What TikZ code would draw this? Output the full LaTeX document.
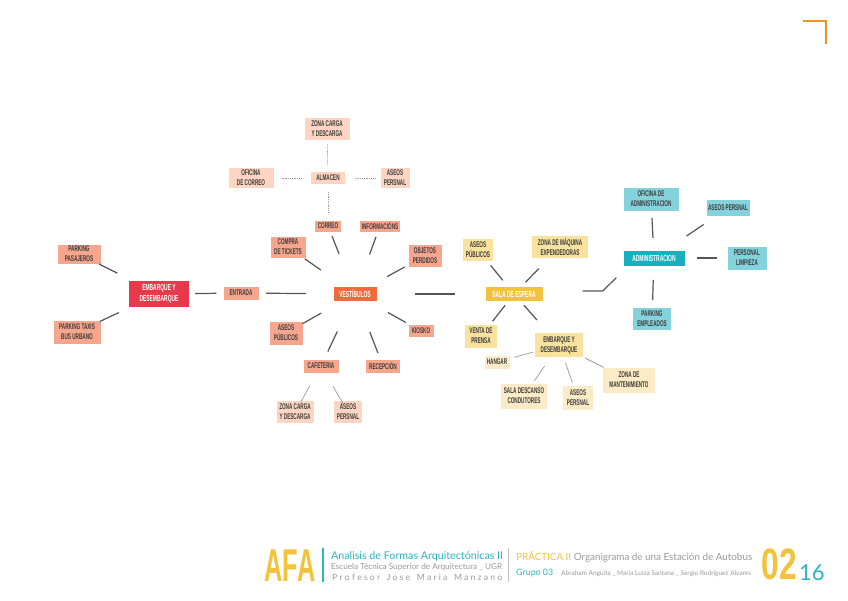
\documentclass[tikz,border=0pt]{standalone}
\usepackage{fontspec}
\setmainfont{Lato}
\newfontfamily\cnd[FakeStretch=0.56]{Liberation Sans}
\newfontfamily\lsb{Liberation Sans}
\usetikzlibrary{calc}
\definecolor{txt}{HTML}{3A3A3A}
\definecolor{cred}{HTML}{E8394A}
\definecolor{csal}{HTML}{F7A68E}
\definecolor{cpea}{HTML}{FDD5C2}
\definecolor{cora}{HTML}{F26A3B}
\definecolor{cyel}{HTML}{F2C23A}
\definecolor{cyl}{HTML}{F8E29E}
\definecolor{ccr}{HTML}{FCEBC6}
\definecolor{ctea}{HTML}{1AAFBF}
\definecolor{clt}{HTML}{84D3DC}
\definecolor{cline}{HTML}{555555}
\definecolor{cgr}{HTML}{9A9A9A}
\definecolor{ccorner}{HTML}{E8952A}
\definecolor{fteal}{HTML}{2BB5C5}
\definecolor{fgray}{HTML}{9A9A9A}
\tikzset{
  bx/.style={rectangle, align=center, inner sep=1pt, text=txt,
    font={\cnd\bfseries\fontsize{8.3}{10}\selectfont}},
  sz/.style 2 args={minimum width=#1pt, minimum height=#2pt},
  wt/.style={text=white, font={\cnd\bfseries\fontsize{8.8}{11}\selectfont}},
  ln/.style={draw=cline, line width=1.2pt},
  thn/.style={draw=cgr, line width=0.7pt},
  dsh/.style={draw=cgr, line width=0.6pt, dash pattern=on 1pt off 0.8pt},
}
\newcommand\seg[5][ln]{\draw[#1] ($(#2)!#4!(#3)$) -- ($(#2)!#5!(#3)$);}
\begin{document}
\begin{tikzpicture}[x=1pt,y=-1pt]
\useasboundingbox[fill=white] (0,0) rectangle (848,600);
% corner
\draw[ccorner, line width=1.6pt] (803,21) -- (826,21) -- (826,44);
% left group
\node[bx,wt,fill=cred,sz={60}{26}] (emb) at (159,294) {EMBARQUE Y\\DESEMBARQUE};
\node[bx,fill=csal,sz={43}{19}] (ppas) at (79,254) {PARKING\\PASAJEROS};
\node[bx,fill=csal,sz={47}{23}] (ptax) at (77,332) {PARKING TAXIS\\BUS URBANO};
\node[bx,fill=csal,sz={35}{13}] (entr) at (241,293) {ENTRADA};
% vestibulos
\node[bx,wt,fill=cora,sz={43}{14}] (vest) at (355,294) {VESTÍBULOS};
\node[bx,fill=csal,sz={35}{21}] (comp) at (288,247) {COMPRA\\DE TICKETS};
\node[bx,fill=csal,sz={26}{11}] (corr) at (328,226) {CORREO};
\node[bx,fill=csal,sz={40}{11}] (info) at (380,226) {INFORMACIÓNS};
\node[bx,fill=csal,sz={33}{22}] (obj) at (425,256) {OBJETOS\\PERDIDOS};
\node[bx,fill=csal,sz={25}{12}] (kio) at (421,331) {KIOSKO};
\node[bx,fill=csal,sz={34}{13}] (rec) at (383,366) {RECEPCIÓN};
\node[bx,fill=csal,sz={35}{13}] (caf) at (321,366) {CAFETERIA};
\node[bx,fill=csal,sz={33}{23}] (asp) at (286,333) {ASEOS\\PÚBLICOS};
\node[bx,fill=cpea,sz={37}{22}] (zc2) at (295,412) {ZONA CARGA\\Y DESCARGA};
\node[bx,fill=cpea,sz={28}{22}] (ap2) at (348,412) {ASEOS\\PERSNAL};
\node[bx,fill=cpea,sz={34}{12}] (alm) at (328,178) {ALMACEN};
\node[bx,fill=cpea,sz={45}{20}] (ofc) at (251,178) {OFICINA\\DE CORREO};
\node[bx,fill=cpea,sz={29}{20}] (ap1) at (395,178) {ASEOS\\PERSNAL};
\node[bx,fill=cpea,sz={45}{22}] (zc1) at (327,129) {ZONA CARGA\\Y DESCARGA};
% sala de espera
\node[bx,wt,fill=cyel,sz={57}{14}] (sala) at (514,294) {SALA DE ESPERA};
\node[bx,fill=cyl,sz={30}{22}] (asp3) at (478,250) {ASEOS\\PÚBLICOS};
\node[bx,fill=cyl,sz={56}{22}] (maq) at (560,247) {ZONA DE MÁQUINA\\EXPENDEDORAS};
\node[bx,fill=cyl,sz={32}{23}] (vent) at (481,336) {VENTA DE\\PRENSA};
\node[bx,fill=cyl,sz={48}{24}] (emb2) at (559,345) {EMBARQUE Y\\DESEMBARQUE};
\node[bx,fill=ccr,sz={25}{13}] (hang) at (497,362) {HANGAR};
\node[bx,fill=ccr,sz={46}{25}] (desc) at (524,396) {SALA DESCANSO\\CONDUTORES};
\node[bx,fill=ccr,sz={30}{24}] (ap3) at (578,398) {ASEOS\\PERSNAL};
\node[bx,fill=ccr,sz={52}{25}] (mant) at (629,380) {ZONA DE\\MANTENIMIENTO};
% administracion
\node[bx,wt,fill=ctea,sz={61}{15}] (adm) at (654,258) {ADMINISTRACION};
\node[bx,fill=clt,sz={55}{23}] (ofa) at (651,199) {OFICINA DE\\ADMINISTRACION};
\node[bx,fill=clt,sz={43}{16}] (apa) at (728,208) {ASEOS PERSNAL};
\node[bx,fill=clt,sz={39}{23}] (limp) at (747,258) {PERSONAL\\LIMPIEZA};
\node[bx,fill=clt,sz={38}{22}] (park) at (652,319) {PARKING\\EMPLEADOS};
% connectors left
\seg{emb}{ppas}{0.52}{0.75}
\seg{emb}{ptax}{0.49}{0.72}
\seg{emb}{entr}{0.44}{0.70}
% vestibulos
\seg{vest}{entr}{0.43}{0.78}
\seg{vest}{sala}{0.377}{0.63}
\seg{vest}{comp}{0.51}{0.75}
\seg{vest}{corr}{0.59}{0.85}
\seg{vest}{info}{0.58}{0.84}
\seg{vest}{obj}{0.46}{0.71}
\seg{vest}{asp}{0.49}{0.76}
\seg{vest}{kio}{0.50}{0.77}
\seg{vest}{caf}{0.52}{0.80}
\seg{vest}{rec}{0.53}{0.82}
\seg[dsh]{alm}{ofc}{0.34}{0.60}
\seg[dsh]{alm}{ap1}{0.40}{0.70}
\seg[dsh]{alm}{zc1}{0.27}{0.71}
\seg[dsh]{alm}{corr}{0.29}{0.71}
\seg[thn]{caf}{zc2}{0.43}{0.78}
\seg[thn]{caf}{ap2}{0.44}{0.82}
% sala
\seg{sala}{asp3}{0.31}{0.65}
\seg{sala}{maq}{0.25}{0.54}
\seg{sala}{vent}{0.27}{0.65}
\seg{sala}{emb2}{0.22}{0.51}
\draw[ln] ($(sala.east)+(40,-3)$) -- ++(20,0) -- ($(adm.south west)+(-7,12)$);
\seg[thn]{emb2}{hang}{0.42}{0.72}
\seg[thn]{emb2}{desc}{0.41}{0.70}
\seg[thn]{emb2}{ap3}{0.34}{0.71}
\seg[thn]{emb2}{mant}{0.37}{0.64}
% admin
\seg{adm}{ofa}{0.34}{0.68}
\seg{adm}{apa}{0.44}{0.67}
\seg{adm}{limp}{0.46}{0.68}
\seg{adm}{park}{0.36}{0.69}
% footer
\node[anchor=center, inner sep=0, text=cyel] (afa) at (290,566)
  {\scalebox{0.55}[1]{\lsb\bfseries\fontsize{46}{46}\selectfont AFA}};
\draw[fteal, line width=1.2pt] (323,548) -- (323,582);
\node[anchor=base west, inner sep=0, text=fteal] (t1) at (331,559)
  {\resizebox{172pt}{!}{Analisis de Formas Arquitectónicas II}};
\node[anchor=base west, inner sep=0, text=fgray] (t2) at (331,569.5)
  {\resizebox{171pt}{!}{Escuela Técnica Superior de Arquitectura \_ UGR}};
\node[anchor=base west, inner sep=0, text=fgray] (t3) at (332,580)
  {\resizebox{170pt}{!}{P r o f e s o r \ \ J o s e \ \ M a r i a \ \ M a n z a n o}};
\draw[fgray!60, line width=0.8pt] (508,548) -- (508,582);
\node[anchor=base west, inner sep=0] (t4) at (516,560)
  {\resizebox{236pt}{!}{\textcolor{cyel}{PRÁCTICA II} \textcolor{fgray}{Organigrama de una Estación de Autobus}}};
\node[anchor=base west, inner sep=0, text=fteal] (t5) at (516,575)
  {\resizebox{37pt}{!}{Grupo 03}};
\node[anchor=base west, inner sep=0, text=fgray] (t6) at (561,575)
  {\resizebox{190pt}{!}{Abraham Anguita \_ Maria Luiza Santana \_ Sergio Rodriguez Alvares}};
\node[anchor=center, inner sep=0, text=cyel] (n02) at (779,564)
  {\scalebox{0.72}[1]{\lsb\bfseries\fontsize{44}{44}\selectfont 02}};
\node[anchor=base west, inner sep=0, text=fteal] (n16) at (799,580)
  {\fontsize{22}{22}\selectfont 16};
\end{tikzpicture}
\end{document}
